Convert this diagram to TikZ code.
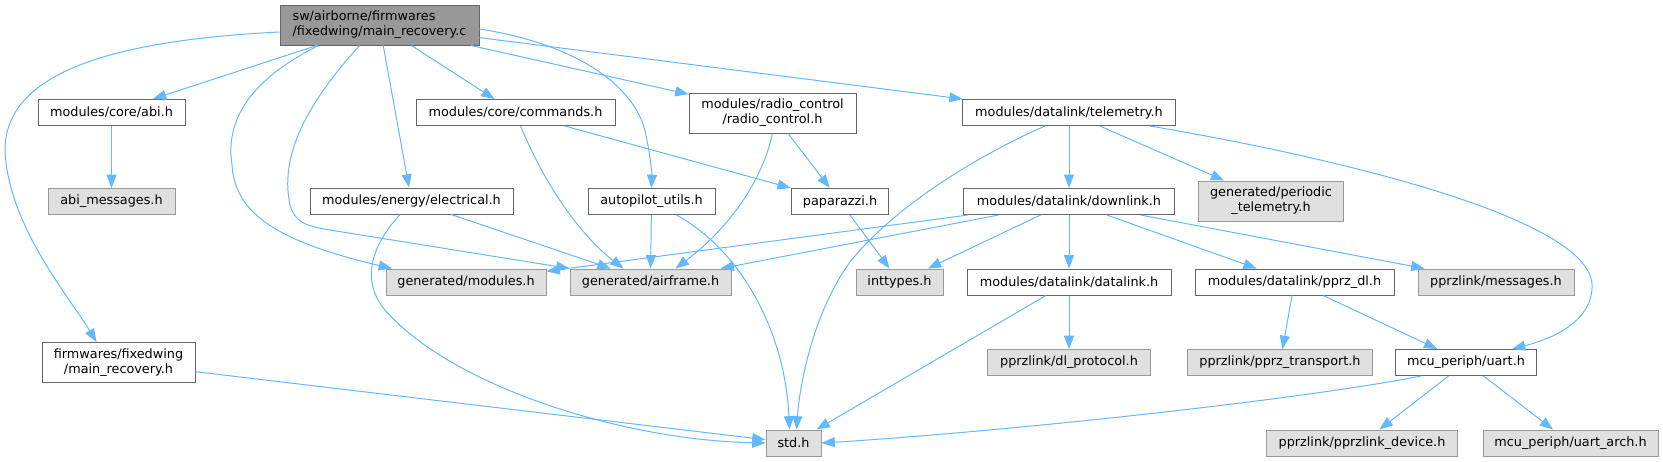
\documentclass[tikz,border=0pt]{standalone}
\usepackage{fontspec}
\setmainfont{DejaVu Sans}
\usepackage{tikz}
\usetikzlibrary{arrows.meta,calc}
\definecolor{edgeblue}{HTML}{63B8FF}
\definecolor{boxline}{HTML}{666666}
\definecolor{extline}{HTML}{999999}
\definecolor{extfill}{HTML}{E0E0E0}
\definecolor{rootfill}{HTML}{999999}

\begin{document}
\begin{tikzpicture}[x=0.75pt,y=-0.75pt,
  hdr/.style={draw=boxline,fill=white,line width=0.75pt,inner sep=0pt,minimum height=19.5pt,
    font=\fontsize{9.6}{11.25}\selectfont,align=center},
  ext/.style={hdr,draw=extline,fill=extfill},
  root/.style={hdr,fill=rootfill,align=left},
  inc/.style={draw=edgeblue,line width=0.75pt,-{Triangle[length=10pt,width=7.5pt]}}]
  \useasboundingbox (0,0) rectangle (1663,461);
  % Level: source and first includes
  \node[root,minimum width=149.25pt,minimum height=30pt] (main) at (379.5,25) {sw/airborne/firmwares\\/fixedwing/main\_recovery.c};
  \node[hdr,minimum width=110.25pt] (abi) at (111.5,112.5) {modules/core/abi.h};
  \node[hdr,minimum width=149.25pt] (cmds) at (515.5,112.5) {modules/core/commands.h};
  \node[hdr,minimum width=125.25pt,minimum height=30pt] (radio) at (772.5,113) {modules/radio\_control\\/radio\_control.h};
  \node[hdr,minimum width=160pt] (tele) at (1069,112.5) {modules/datalink/telemetry.h};
  % Level: second row
  \node[ext,minimum width=95.25pt] (abimsg) at (111.5,201.5) {abi\_messages.h};
  \node[hdr,minimum width=152.25pt] (elec) at (411.5,201) {modules/energy/electrical.h};
  \node[hdr,minimum width=95.25pt] (apu) at (651.5,201.5) {autopilot\_utils.h};
  \node[hdr,minimum width=73.2pt] (ppz) at (840,201.5) {paparazzi.h};
  \node[hdr,minimum width=158.25pt] (dnl) at (1069,201.5) {modules/datalink/downlink.h};
  \node[ext,minimum width=108.4pt,minimum height=30pt] (pertel) at (1271,201) {generated/periodic\\\_telemetry.h};
  % Level: third row
  \node[ext,minimum width=120pt] (gmod) at (466,282) {generated/modules.h};
  \node[ext,minimum width=120.75pt] (afr) at (650.5,282) {generated/airframe.h};
  \node[ext,minimum width=65.25pt] (inty) at (899.5,282) {inttypes.h};
  \node[hdr,minimum width=153pt] (dlk) at (1069,282) {modules/datalink/datalink.h};
  \node[hdr,minimum width=149.25pt] (pdl) at (1294.5,282) {modules/datalink/pprz\_dl.h};
  \node[ext,minimum width=117pt] (msgs) at (1496,282) {pprzlink/messages.h};
  % Level: fourth row
  \node[hdr,minimum width=114.75pt,minimum height=30pt] (mrec) at (118.5,362.5) {firmwares/fixedwing\\/main\_recovery.h};
  \node[ext,minimum width=122.25pt] (dlp) at (1069,362.5) {pprzlink/dl\_protocol.h};
  \node[ext,minimum width=138.3pt] (ptr) at (1280,362.5) {pprzlink/pprz\_transport.h};
  \node[hdr,minimum width=105.5pt] (uart) at (1466,362.5) {mcu\_periph/uart.h};
  % Level: bottom
  \node[ext,minimum width=41.25pt] (stdh) at (793.5,443) {std.h};
  \node[ext,minimum width=143.6pt] (pdev) at (1362,443) {pprzlink/pprzlink\_device.h};
  \node[ext,minimum width=131.25pt] (uarch) at (1570.5,443) {mcu\_periph/uart\_arch.h};

  % straight includes
  \draw[inc] (main) -- (abi);
  \draw[inc] (main) -- (elec);
  \draw[inc] (main) -- (cmds);
  \draw[inc] (main) -- (radio);
  \draw[inc] (main) -- (tele);
  \draw[inc] (abi) -- (abimsg);
  \draw[inc] (cmds) -- (ppz);
  \draw[inc] (radio) -- (ppz);
  \draw[inc] (elec) -- (afr);
  \draw[inc] (apu) -- (afr);
  \draw[inc] (ppz) -- (inty);
  \draw[inc] (tele) -- (dnl);
  \draw[inc] (tele) -- (pertel);
  \draw[inc] (dnl) -- (gmod);
  \draw[inc] (dnl) -- (afr);
  \draw[inc] (dnl) -- (inty);
  \draw[inc] (dnl) -- (dlk);
  \draw[inc] (dnl) -- (pdl);
  \draw[inc] (dnl) -- (msgs);
  \draw[inc] (dlk) -- (dlp);
  \draw[inc] (dlk) -- (stdh);
  \draw[inc] (pdl) -- (ptr);
  \draw[inc] (pdl) -- (uart);
  \draw[inc] (uart) -- (pdev);
  \draw[inc] (uart) -- (uarch);
  \draw[inc] (mrec) -- (stdh);
  % curved includes
  \draw[inc] ($(main.west)+(0,7)$) .. controls (120,40) and (5,70) .. (5,150)
    .. controls (8,225) and (68,295) .. ($(mrec.north)+(-22,0)$);
  \draw[inc] ($(main.south)+(-61,0)$) .. controls (250,80) and (225,120) .. (232,165)
    .. controls (235,210) and (270,240) .. ($(gmod.north)+(-74,0)$);
  \draw[inc] ($(main.south)+(-20,0)$) .. controls (315,95) and (278,150) .. (290,205)
    .. controls (295,222) and (305,226) .. (330,230) -- (afr.north west);
  \draw[inc] ($(main.east)+(0,4)$) .. controls (565,42) and (635,80) .. (646,135)
    .. controls (651,160) and (652,175) .. (apu.north);
  \draw[inc] ($(cmds.south)+(5,0)$) .. controls (545,185) and (580,235) .. ($(afr.north)+(-27,0)$);
  \draw[inc] (radio.south) .. controls (760,190) and (720,235) .. ($(afr.north)+(25,0)$);
  \draw[inc] ($(apu.south)+(25,0)$) .. controls (740,250) and (785,330) .. ($(stdh.north)+(-4,0)$);
  \draw[inc] ($(tele.south)+(-24,0)$) .. controls (990,150) and (900,200) .. (850,262)
    .. controls (815,310) and (800,380) .. ($(stdh.north)+(3,0)$);
  \draw[inc] ($(elec.south)+(-11.5,0)$) .. controls (372,245) and (360,280) .. (385,310)
    .. controls (450,385) and (620,440) .. (stdh.west);
  \draw[inc] ($(uart.south)+(-45,0)$) .. controls (1300,400) and (1000,432) .. (stdh.east);
  \draw[inc] ($(tele.south)+(81,0)$) .. controls (1350,160) and (1590,220) .. (1592,285)
    .. controls (1593,320) and (1555,338) .. ($(uart.north)+(46,0)$);
\end{tikzpicture}
\end{document}
